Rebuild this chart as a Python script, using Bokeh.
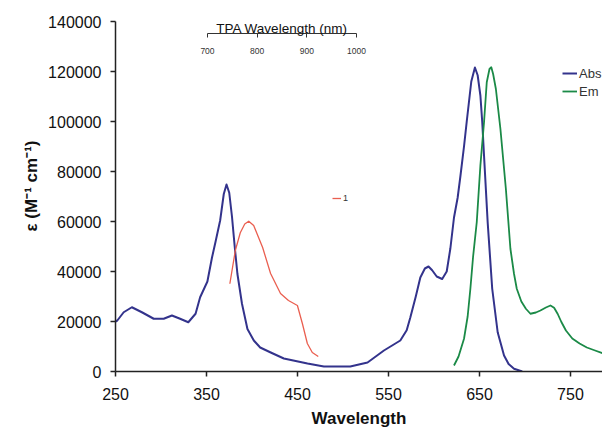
from bokeh.plotting import figure
from bokeh.models import (Range1d, LinearAxis, FixedTicker, Legend, LegendItem,
                          Label, BasicTickFormatter)
from bokeh.embed import file_html
from bokeh.resources import INLINE

# ---- data ----
abs_wl = [250, 252, 259, 268, 279, 292, 303, 312, 321, 330, 338, 343, 351, 356, 360, 365,
          369, 372, 375, 378, 381, 384, 389, 395, 402, 409, 420, 435, 461, 479, 508, 527,
          545, 563, 570, 574, 580, 585, 590, 594, 598, 603, 609, 614, 618, 622, 626, 629,
          633, 636, 638, 641, 645, 648, 651, 653, 655, 659, 664, 670, 677, 682, 688, 697]
abs_eps = [20000, 20400, 23700, 25700, 23700, 21100, 21100, 22400, 21100, 19700, 23100,
           29700, 36000, 45500, 52000, 60400, 71000, 74800, 71500, 62000, 50000, 39000,
           27100, 17000, 12400, 9600, 7700, 5200, 3200, 2000, 2000, 3600, 8400, 12400,
           16500, 21600, 30000, 37600, 41200, 42000, 40500, 38000, 37000, 40000, 49200,
           61600, 69500, 78000, 90000, 100000, 106400, 116000, 121600, 118500, 110400,
           100000, 86400, 59700, 33100, 15700, 6400, 3000, 1100, 0]

em_wl = [622, 627, 633, 637, 640, 643, 647, 651, 655, 658, 661, 663, 665, 668, 673, 679,
         684, 688, 691, 696, 701, 706, 712, 717, 723, 728, 732, 736, 740, 745, 752, 760,
         768, 777, 786, 794]
em_int = [2400, 6000, 13100, 22000, 33100, 46000, 59700, 82400, 99700, 115700, 121000,
          121700, 119000, 113100, 97100, 73100, 49100, 39000, 33100, 28000, 25100, 23100,
          23600, 24400, 25600, 26400, 25500, 23000, 19800, 16400, 13200, 11200, 9600, 8400,
          7200, 6000]

tpa_wl = [745, 756, 766, 775, 783, 793, 811, 827, 847, 863, 881, 891, 901, 911, 923]
tpa_val = [35100, 48400, 55500, 59000, 60100, 58400, 49600, 39200, 31200, 28400, 26400,
           19200, 11200, 7600, 6000]

x_ticks = [250, 350, 450, 550, 650, 750]
y_ticks = [0, 20000, 40000, 60000, 80000, 100000, 120000, 140000]
tpa_ticks = [700, 800, 900, 1000]

FONT = "Liberation Sans"
BLUE = "#33338c"
GREEN = "#1b8a47"
RED = "#ea5f50"

# frame spans the full top so the inset TPA title is not clipped;
# the y axis itself stops at 140000
p = figure(width=602, height=430, output_backend="svg", toolbar_location=None,
           x_range=Range1d(250, 785.2), y_range=Range1d(0, 148400),
           min_border_left=115, min_border_right=0, min_border_top=0,
           min_border_bottom=59, x_axis_location=None, y_axis_location=None)
p.outline_line_color = None
p.xgrid.visible = False
p.ygrid.visible = False
p.background_fill_color = "white"
p.border_fill_color = "white"

p.extra_x_ranges = {"tpa": Range1d(514.8, 1495.2)}

r_abs = p.line(abs_wl, abs_eps, line_color=BLUE, line_width=2, line_join="round")
r_em = p.line(em_wl, em_int, line_color=GREEN, line_width=1.8, line_join="round")
r_tpa = p.line(tpa_wl, tpa_val, line_color=RED, line_width=1.3, line_join="round",
               x_range_name="tpa")

# main axes
xax = LinearAxis(ticker=FixedTicker(ticks=x_ticks), axis_label="Wavelength")
yax = LinearAxis(ticker=FixedTicker(ticks=y_ticks), axis_label="ε (M⁻¹ cm⁻¹)",
                 bounds=(0, 140000),
                 formatter=BasicTickFormatter(power_limit_high=8, use_scientific=False))
for ax in (xax, yax):
    ax.axis_line_color = "#222222"
    ax.axis_line_width = 1.5
    ax.major_tick_line_color = "#222222"
    ax.major_tick_line_width = 1.5
    ax.major_tick_out = 5
    ax.major_tick_in = 0
    ax.minor_tick_line_color = None
    ax.major_label_text_font = FONT
    ax.major_label_text_font_size = "16px"
    ax.major_label_text_color = "#111111"
    ax.axis_label_text_font = FONT
    ax.axis_label_text_font_size = "17px"
    ax.axis_label_text_font_style = "bold"
    ax.axis_label_text_color = "#111111"
xax.major_label_standoff = 11
xax.axis_label_standoff = 6
yax.major_label_standoff = 9
yax.axis_label_standoff = 4
p.add_layout(xax, "below")
p.add_layout(yax, "left")

# TPA wavelength axis (inset at the top)
tax = LinearAxis(x_range_name="tpa", ticker=FixedTicker(ticks=tpa_ticks),
                 bounds=(700, 1000), fixed_location=135200)
tax.axis_line_color = "#333333"
tax.axis_line_width = 1
tax.major_tick_line_color = "#333333"
tax.major_tick_out = 4
tax.major_tick_in = 0
tax.minor_tick_line_color = None
tax.major_label_text_font = FONT
tax.major_label_text_font_size = "8.5px"
tax.major_label_text_color = "#333333"
tax.major_label_standoff = 10
p.add_layout(tax, "below")

p.add_layout(Label(x=850, y=137300, x_range_name="tpa", text="TPA Wavelength (nm)",
                   text_align="center", text_baseline="alphabetic",
                   text_font=FONT, text_font_size="13.5px", text_color="#111111"))

leg = Legend(items=[LegendItem(label="Abs", renderers=[r_abs]),
                    LegendItem(label="Em", renderers=[r_em])],
             location=(447, 271), orientation="vertical")
leg.padding = 0
leg.margin = 0
leg.spacing = 0
leg.glyph_width = 15
leg.glyph_height = 18
leg.label_height = 18
leg.label_standoff = 2
leg.border_line_color = None
leg.background_fill_alpha = 0
leg.label_text_font = FONT
leg.label_text_font_size = "13px"
leg.label_text_color = "#333333"
p.add_layout(leg, "center")

leg2 = Legend(items=[LegendItem(label="1", renderers=[r_tpa])], location=(217, 167))
leg2.padding = 0
leg2.margin = 0
leg2.glyph_width = 9
leg2.glyph_height = 12
leg2.label_height = 12
leg2.label_standoff = 2
leg2.border_line_color = None
leg2.background_fill_alpha = 0
leg2.label_text_font = FONT
leg2.label_text_font_size = "9px"
leg2.label_text_color = "#333333"
p.add_layout(leg2, "center")

open("out.html", "w").write(file_html(p, INLINE))
